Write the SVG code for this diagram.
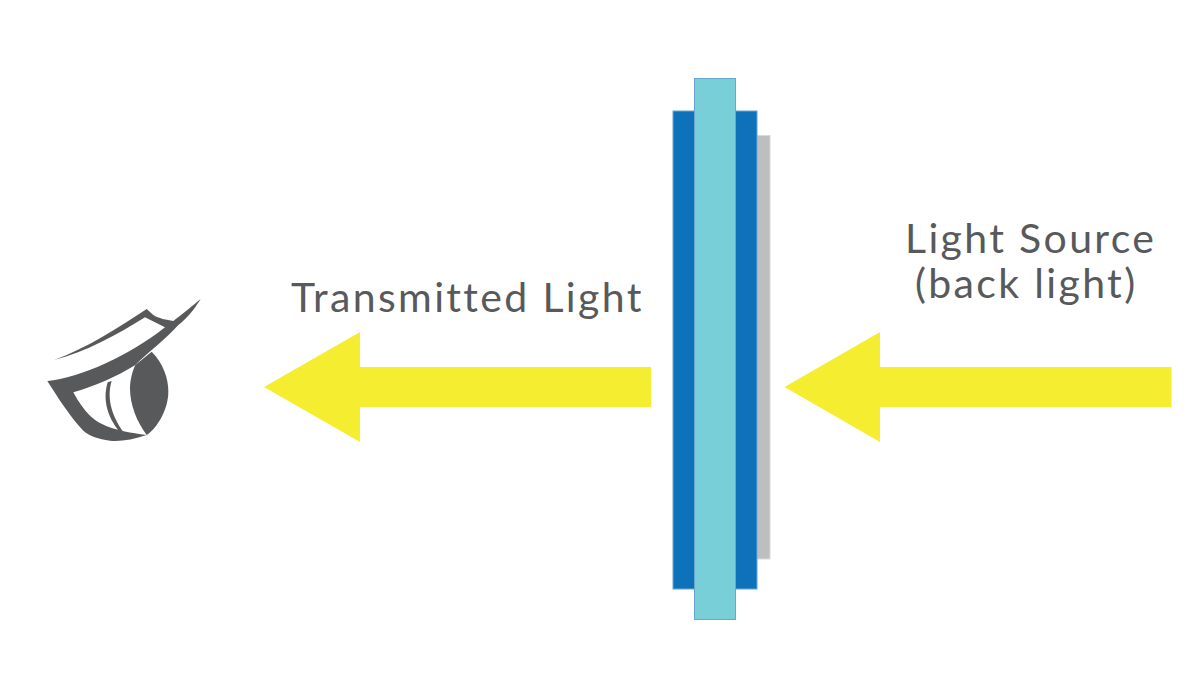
<svg xmlns="http://www.w3.org/2000/svg" width="1190" height="696" viewBox="0 0 1190 696">
<style>
.lbl{font-family:"Lato","Liberation Sans",sans-serif;font-size:41px;fill:#58595b;letter-spacing:2.35px}
.arrow{fill:#f5ee30}
.eye{fill:#58595b}
</style>
<rect width="1190" height="696" fill="#fff"/>
<g id="eye" transform="translate(30 285) scale(.33333)">
<path class="eye" d="M72,225C170,190 270,125 350,72L370,90C385,100 410,105 430,108C460,85 490,60 512,42C490,78 465,105 445,120C410,160 350,205 316,240C260,275 190,305 130,322C145,350 160,372 178,390C205,418 250,438 350,450C310,464 270,470 240,467C205,462 180,454 160,437C120,395 85,340 52,288C150,280 300,210 405,127L345,97C260,150 170,200 72,225Z"/>
<path class="eye" d="M365,200C400,235 415,280 415,320C415,370 385,425 350,450C320,410 300,360 300,310C300,285 307,260 316,240Z"/>
<path class="eye" d="M233,292L245,288C232,330 238,385 284,446L272,444C225,390 220,335 233,292Z"/>
</g>
<g id="backlight"><rect x="757" y="135.500" width="13" height="423.500" fill="#bdbec0" stroke="#d9d9da" stroke-width="1"/></g>
<g id="outer-panel"><rect x="673" y="111" width="84" height="478" fill="#0e72ba" stroke="#66a6d8" stroke-width="1"/></g>
<g id="inner-panel"><rect x="694.500" y="78.500" width="41" height="541" fill="#78cfd8" stroke="#66a6d0" stroke-width="1"/></g>
<g id="connectors">
<polygon class="arrow" points="264,387 360,332 360,367 651,367 651,407 360,407 360,442"/>
<polygon class="arrow" points="784.500,387 880,332 880,367 1171.500,367 1171.500,407 880,407 880,442"/>
</g>
<g id="label-transmitted"><text class="lbl" x="291" y="312">Transmitted Light</text></g>
<g id="label-source"><text class="lbl" x="905" y="253">Light Source</text><text class="lbl" x="915" y="298">(back light)</text></g>
</svg>
